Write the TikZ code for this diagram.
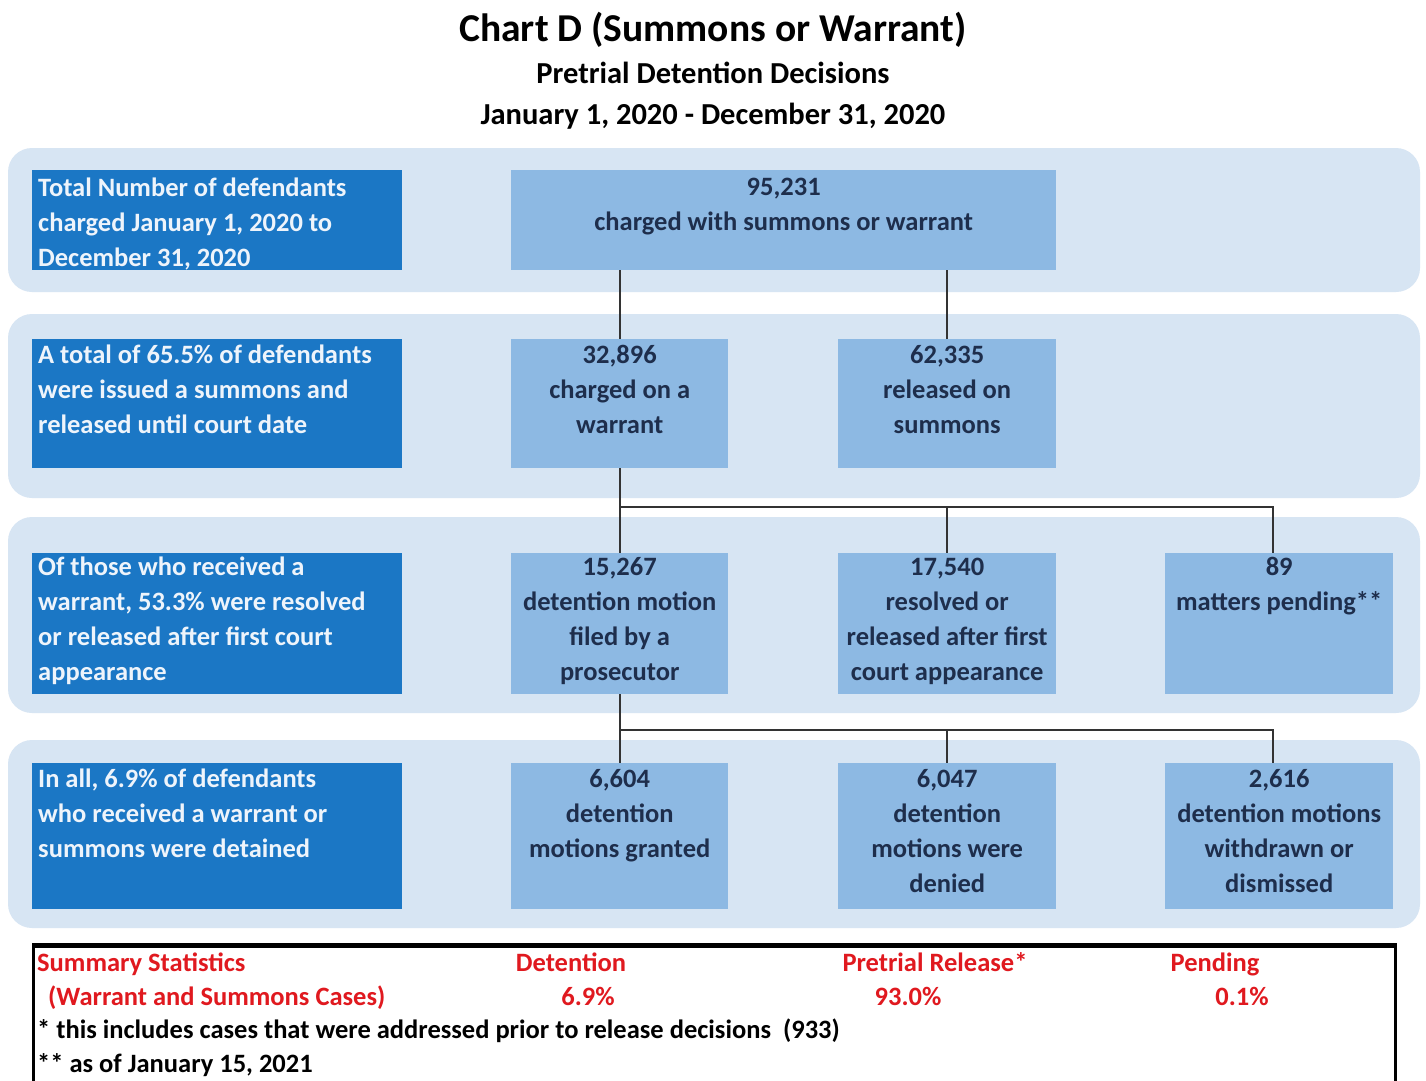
\documentclass[tikz,border=0pt]{standalone}
\usepackage{fontspec}
\setmainfont{Carlito}
\definecolor{bandc}{HTML}{D7E5F3}
\definecolor{darkb}{HTML}{1B77C5}
\definecolor{lightb}{HTML}{8DB9E3}
\definecolor{navy}{HTML}{1E2E4C}
\definecolor{ltxt}{HTML}{EEF4FB}
\definecolor{connc}{HTML}{333333}
\definecolor{redt}{HTML}{E0191F}
\newcommand\boxfont{\fontsize{26.5}{35}\selectfont\bfseries}
\tikzset{
  band/.style={fill=bandc, rounded corners=24pt},
  lbox/.style={fill=darkb, inner sep=0, anchor=north west},
  mbox/.style={fill=lightb, inner sep=0, anchor=north west},
  ltext/.style={anchor=north west, inner sep=0, text=ltxt, align=left, font=\boxfont},
  mtext/.style={anchor=north, inner sep=0, text=navy, align=center, font=\boxfont},
  conn/.style={draw=connc, line width=2pt},
  redlab/.style={anchor=base, inner sep=0, text=redt, font=\boxfont},
  blklab/.style={anchor=base west, inner sep=0, text=black, font=\boxfont},
}
\begin{document}
\begin{tikzpicture}[x=1pt,y=-1pt]
\useasboundingbox[fill=white] (0,0) rectangle (1426,1080);
% titles
\node[anchor=base, inner sep=0, font=\fontsize{39.5}{44}\selectfont\bfseries] (title) at (713,41) {Chart D (Summons or Warrant)};
\node[anchor=base, inner sep=0, font=\fontsize{30.5}{34}\selectfont\bfseries] (sub1) at (713,83) {Pretrial Detention Decisions};
\node[anchor=base, inner sep=0, font=\fontsize{30.5}{34}\selectfont\bfseries] (sub2) at (713,124) {January 1, 2020 - December 31, 2020};
% bands
\fill[band] (8,148) rectangle (1420,292);
\fill[band] (8,314) rectangle (1420,498);
\fill[band] (8,517) rectangle (1420,713);
\fill[band] (8,740) rectangle (1420,928);
% left boxes
\node[lbox, minimum width=370, minimum height=100] (l1) at (32,170) {};
\node[lbox, minimum width=370, minimum height=129] (l2) at (32,339) {};
\node[lbox, minimum width=370, minimum height=141] (l3) at (32,553) {};
\node[lbox, minimum width=370, minimum height=146] (l4) at (32,763) {};
\node[ltext] (lt1) at ([xshift=6pt,yshift=-2pt]l1.north west) {\strut Total Number of defendants\\charged January 1, 2020 to\\December 31, 2020};
\node[ltext] (lt2) at ([xshift=6pt]l2.north west) {\strut A total of 65.5\% of defendants\\were issued a summons and\\released until court date};
\node[ltext] (lt3) at ([xshift=6pt,yshift=2pt]l3.north west) {\strut Of those who received a\\warrant, 53.3\% were resolved\\or released after first court\\appearance};
\node[ltext] (lt4) at ([xshift=6pt]l4.north west) {\strut In all, 6.9\% of defendants\\who received a warrant or\\summons were detained};
% middle boxes
\node[mbox, minimum width=545, minimum height=100] (top) at (511,170) {};
\node[mbox, minimum width=217, minimum height=129] (b2a) at (511,339) {};
\node[mbox, minimum width=218, minimum height=129] (b2b) at (838,339) {};
\node[mbox, minimum width=217, minimum height=141] (b3a) at (511,553) {};
\node[mbox, minimum width=218, minimum height=141] (b3b) at (838,553) {};
\node[mbox, minimum width=228, minimum height=141] (b3c) at (1165,553) {};
\node[mbox, minimum width=217, minimum height=146] (b4a) at (511,763) {};
\node[mbox, minimum width=218, minimum height=146] (b4b) at (838,763) {};
\node[mbox, minimum width=228, minimum height=146] (b4c) at (1165,763) {};
\node[mtext] (tt) at ([yshift=-1pt]top.north) {\strut 95,231\\charged with summons or warrant};
\node[mtext] (t2a) at (b2a.north) {\strut 32,896\\charged on a\\warrant};
\node[mtext] (t2b) at (b2b.north) {\strut 62,335\\released on\\summons};
\node[mtext] (t3a) at ([yshift=2pt]b3a.north) {\strut 15,267\\detention motion\\filed by a\\prosecutor};
\node[mtext] (t3b) at ([yshift=2pt]b3b.north) {\strut 17,540\\resolved or\\released after first\\court appearance};
\node[mtext] (t3c) at ([yshift=2pt]b3c.north) {\strut 89\\matters pending**};
\node[mtext] (t4a) at (b4a.north) {\strut 6,604\\detention\\motions granted};
\node[mtext] (t4b) at (b4b.north) {\strut 6,047\\detention\\motions were\\denied};
\node[mtext] (t4c) at (b4c.north) {\strut 2,616\\detention motions\\withdrawn or\\dismissed};
% connectors
\coordinate (h1) at (0,507);
\coordinate (h2) at (0,730);
\draw[conn] (top.south -| b2a.north) -- (b2a.north);
\draw[conn] (top.south -| b2b.north) -- (b2b.north);
\draw[conn] (b2a.south) -- (b3a.north);
\draw[conn] (b2a.south |- h1) -| ([xshift=-6pt]b3c.north);
\draw[conn] (b3b.north |- h1) -- (b3b.north);
\draw[conn] (b3a.south) -- (b4a.north);
\draw[conn] (b3a.south |- h2) -| ([xshift=-6pt]b4c.north);
\draw[conn] (b4b.north |- h2) -- (b4b.north);
% summary
\node[draw=black, line width=2.5pt, anchor=north west, minimum width=1362, minimum height=160, inner sep=0] (summ) at (32,945) {};
\draw[line width=4pt] (summ.north west) -- (summ.north east);
\node[redlab, anchor=base west] (s1) at (37,971) {Summary Statistics};
\node[redlab, anchor=base west] (s2) at (48,1005) {(Warrant and Summons Cases)};
\node[redlab] (s3) at (571,971) {Detention};
\node[redlab] (s4) at (588,1005) {6.9\%};
\node[redlab] (s5) at (935,971) {Pretrial Release*};
\node[redlab] (s6) at (908,1005) {93.0\%};
\node[redlab] (s7) at (1215,971) {Pending};
\node[redlab] (s8) at (1242,1005) {0.1\%};
\node[blklab] (n1) at (37,1038) {* this includes cases that were addressed prior to release decisions\ \ (933)};
\node[blklab] (n2) at (37,1072) {** as of January 15, 2021};
\end{tikzpicture}
\end{document}
